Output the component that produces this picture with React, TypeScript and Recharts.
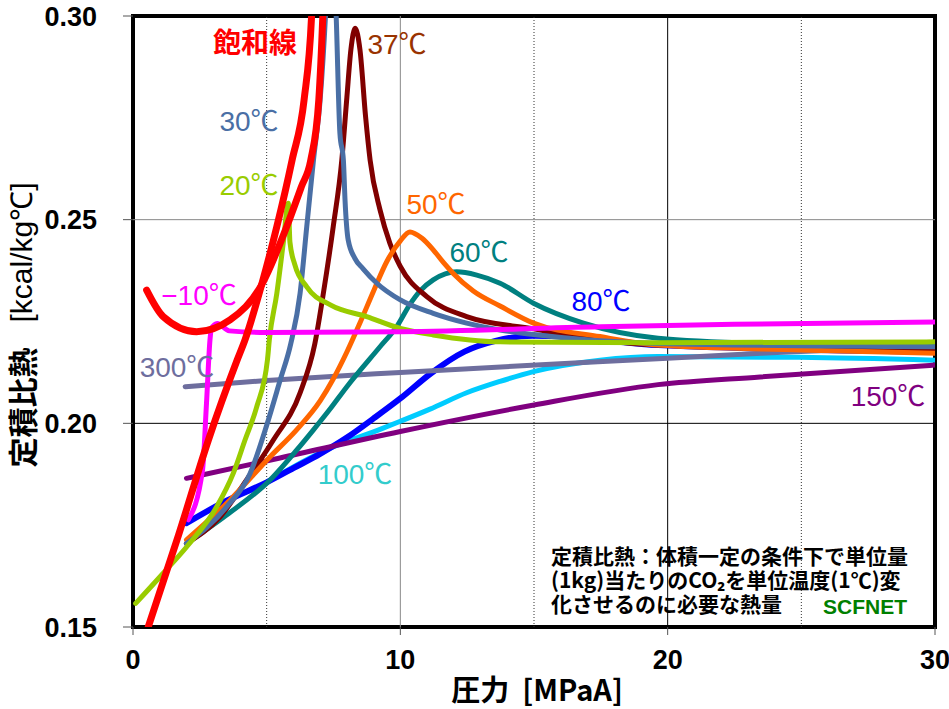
import React from 'react';
import { LineChart, Line, XAxis, YAxis, ReferenceLine, ReferenceArea } from 'recharts';

// ---- axis ticks ----
const X_TICKS = [0, 10, 20, 30];
const Y_TICKS = [0.15, 0.2, 0.25, 0.3];

// ---- series data (pressure MPa, Cv kcal/kg℃) ----
const satVapP = [0.57, 1.7, 2.82, 3.9, 4.19, 4.81, 5.38, 5.95, 6.4, 6.68, 6.8];
const satVapCv = [0.15, 0.1725, 0.1959, 0.2156, 0.2205, 0.234, 0.2483, 0.2646, 0.2794, 0.3, 0.32];

const satLiqP = [0.51, 1.13, 2.38, 3.63, 4.81, 5.75, 6.3, 6.65, 6.95, 7.1, 7.2];
const satLiqCv = [0.2327, 0.2262, 0.2225, 0.2254, 0.234, 0.2483, 0.2581, 0.2646, 0.2794, 0.3, 0.32];

const tm10P = [2.07, 2.6, 2.75, 2.88, 2.93, 3.15, 3.6, 5, 10, 17.5, 22.5, 30];
const tm10Cv = [0.1763, 0.1885, 0.205, 0.2205, 0.2232, 0.2245, 0.2227, 0.2223, 0.2225, 0.2237, 0.2243, 0.2249];

const t20P = [0.1, 1.13, 2.01, 3.13, 3.75, 4.19, 4.63, 5.03, 5.1, 5.38, 5.62, 5.81, 5.87, 6.05, 6.5, 7.4, 8.74, 10, 11.23, 13.73, 19.64, 30];
const t20Cv = [0.1558, 0.1632, 0.1697, 0.1795, 0.1877, 0.1959, 0.2041, 0.2156, 0.2205, 0.2319, 0.2442, 0.254, 0.2445, 0.239, 0.2335, 0.229, 0.2262, 0.2233, 0.2217, 0.22, 0.2198, 0.22];

const t30P = [2.0, 3.5, 4.38, 5.0, 5.5, 5.9, 6.25, 6.5, 6.75, 7.0, 7.2, 7.4, 7.6, 7.74, 7.87, 7.93, 8.05, 8.3, 8.6, 9.12, 10, 11.23, 12.48, 13.73, 14.98, 19.64, 30];
const t30Cv = [0.1705, 0.1795, 0.1877, 0.1995, 0.2105, 0.2195, 0.2319, 0.2483, 0.2646, 0.2794, 0.3, 0.33, 0.3, 0.2712, 0.2646, 0.255, 0.245, 0.2405, 0.238, 0.2344, 0.2303, 0.227, 0.2246, 0.2229, 0.2218, 0.2196, 0.2188];

const t37P = [2.0, 3.25, 4.25, 5.25, 6.25, 6.8, 7.12, 7.49, 7.81, 8.0, 8.15, 8.31, 8.49, 8.7, 8.87, 9.24, 9.61, 10.0, 10.99, 12.48, 14.98, 17.47, 19.64, 30];
const t37Cv = [0.1705, 0.177, 0.1861, 0.1959, 0.2075, 0.2195, 0.2319, 0.2483, 0.2646, 0.28, 0.2917, 0.297, 0.2917, 0.2753, 0.2646, 0.2524, 0.2442, 0.2385, 0.2311, 0.2262, 0.2232, 0.2205, 0.2192, 0.2182];

const t50P = [2.0, 3.63, 5.13, 6.12, 7.0, 7.5, 8.0, 8.5, 9.0, 9.5, 10.0, 10.36, 10.8, 11.23, 11.61, 11.98, 12.73, 13.73, 14.98, 17.47, 19.64, 24.95, 30];
const t50Cv = [0.1714, 0.1812, 0.1918, 0.1984, 0.2055, 0.211, 0.2175, 0.2248, 0.2325, 0.2398, 0.2448, 0.247, 0.2455, 0.2426, 0.2395, 0.2368, 0.2325, 0.2288, 0.2246, 0.2213, 0.2192, 0.218, 0.2172];

const t60P = [2.0, 3.5, 5.13, 6.12, 6.75, 7.37, 8.0, 9.24, 9.86, 10.36, 10.74, 11.23, 12.11, 12.86, 13.73, 14.98, 16.85, 19.64, 23.7, 30];
const t60Cv = [0.1705, 0.1775, 0.1861, 0.1934, 0.1984, 0.2035, 0.209, 0.2188, 0.2237, 0.2292, 0.2325, 0.2352, 0.2372, 0.2364, 0.2344, 0.2295, 0.2246, 0.2209, 0.2196, 0.219];

const t80P = [2.0, 3.5, 5.0, 6.0, 7.0, 8.0, 9.0, 10, 11.15, 12.4, 13.6, 14.98, 16, 17.47, 19.64, 30];
const t80Cv = [0.1755, 0.181, 0.1855, 0.189, 0.1925, 0.1965, 0.2012, 0.2061, 0.2123, 0.2176, 0.2203, 0.2215, 0.2214, 0.2205, 0.2192, 0.2176];

const t100P = [5.0, 6.0, 7.24, 9.24, 10, 11.11, 12.48, 13.73, 14.98, 17.47, 19.64, 24.95, 30];
const t100Cv = [0.1855, 0.1893, 0.1935, 0.1985, 0.2005, 0.2035, 0.2075, 0.2103, 0.2127, 0.2155, 0.2164, 0.2162, 0.2155];

const t150P = [2.0, 5.5, 10, 15, 19.64, 23.46, 30];
const t150Cv = [0.1865, 0.1915, 0.198, 0.2045, 0.2095, 0.2114, 0.2143];

const t300P = [1.95, 5, 10, 20, 23.5, 30];
const t300Cv = [0.209, 0.2105, 0.2125, 0.216, 0.2172, 0.2188];

const NOTE_TEXT = '定積比熱：体積一定の条件下で単位量\n(1kg)当たりのCO₂を単位温度(1℃)変\n化させるのに必要な熱量';

const zip = (xs: number[], ys: number[]) => xs.map((p, i) => ({ p, cv: ys[i] }));

const SERIES = [
  { key: 't100', data: zip(t100P, t100Cv), color: '#00ccff', w: 5 },
  { key: 't80', data: zip(t80P, t80Cv), color: '#0000ff', w: 6 },
  { key: 't150', data: zip(t150P, t150Cv), color: '#800080', w: 5 },
  { key: 't300', data: zip(t300P, t300Cv), color: '#6e6e9e', w: 5 },
  { key: 't60', data: zip(t60P, t60Cv), color: '#008080', w: 5 },
  { key: 't37', data: zip(t37P, t37Cv), color: '#800000', w: 5 },
  { key: 't50', data: zip(t50P, t50Cv), color: '#ff6600', w: 5 },
  { key: 't30', data: zip(t30P, t30Cv), color: '#4a6fa5', w: 5 },
  { key: 't20', data: zip(t20P, t20Cv), color: '#99cc00', w: 5 },
  { key: 'tm10', data: zip(tm10P, tm10Cv), color: '#ff00ff', w: 5 },
  { key: 'satLiq', data: zip(satLiqP, satLiqCv), color: '#ff0000', w: 7 },
  { key: 'satVap', data: zip(satVapP, satVapCv), color: '#ff0000', w: 7 },
];

const NUM_FONT = '"Liberation Sans", Arial, sans-serif';
const JP_FONT = '"Noto Sans CJK JP", "Noto Sans", sans-serif';
const LBL_FONT = '"Liberation Sans", Arial, "Noto Sans CJK JP", sans-serif';

const lbl = (text: string, color: string, x: number, y: number, size = 28, bold = false, font = LBL_FONT) => (
  <div
    key={text}
    style={{
      position: 'absolute', left: x, top: y, transform: 'translate(-50%, -50%)',
      color, fontSize: size, fontFamily: font, fontWeight: bold ? 700 : 400,
      whiteSpace: 'nowrap', lineHeight: 1,
    }}
  >
    {text}
  </div>
);

export default function App() {
  return (
    <div style={{ position: 'absolute', left: 0, top: 0, width: 949, height: 709, background: '#fff', overflow: 'hidden' }}>
      <LineChart width={949} height={709} margin={{ top: 16, right: 14, bottom: 0, left: 0 }}>
        <XAxis
          type="number" dataKey="p" domain={[0, 30]} ticks={X_TICKS} height={82}
          axisLine={false} tickLine={{ stroke: '#555' }} tickSize={8} tickMargin={15}
          tick={{ fontSize: 27, fontWeight: 700, fill: '#000', fontFamily: NUM_FONT }}
          allowDataOverflow
        />
        <YAxis
          type="number" dataKey="cv" domain={[0.15, 0.3]} ticks={Y_TICKS} width={133}
          axisLine={false} tickLine={{ stroke: '#555' }} tickSize={10} tickMargin={26}
          tickFormatter={(v: number) => v.toFixed(2)}
          tick={{ fontSize: 27, fontWeight: 700, fill: '#000', fontFamily: NUM_FONT }}
          allowDataOverflow
        />
        <ReferenceLine x={5} stroke="#333" strokeDasharray="1 2" />
        <ReferenceLine x={10} stroke="#888" />
        <ReferenceLine x={15} stroke="#333" strokeDasharray="1 2" />
        <ReferenceLine x={20} stroke="#000" />
        <ReferenceLine x={25} stroke="#333" strokeDasharray="1 2" />
        <ReferenceLine y={0.25} stroke="#888" />
        <ReferenceLine y={0.2} stroke="#000" />
        {SERIES.map((s) => (
          <Line
            key={s.key} data={s.data} dataKey="cv" type="monotone" stroke={s.color}
            strokeWidth={s.w} dot={false} isAnimationActive={false} strokeLinecap="round"
            strokeLinejoin="round"
          />
        ))}
        <ReferenceArea x1={0} x2={30} y1={0.15} y2={0.3} fill="none" stroke="#000" strokeWidth={4} ifOverflow="visible" />
      </LineChart>

      {lbl('飽和線', '#ff0000', 255, 41, 28, true, JP_FONT)}
      {lbl('37℃', '#993300', 397, 45)}
      {lbl('30℃', '#4a6fa5', 249, 122)}
      {lbl('20℃', '#99cc00', 249, 186)}
      {lbl('50℃', '#ff6600', 436, 205)}
      {lbl('60℃', '#008080', 479, 253)}
      {lbl('80℃', '#0000ff', 601, 302)}
      {lbl('−10℃', '#ff00ff', 199, 296)}
      {lbl('300℃', '#6e6e9e', 177, 368)}
      {lbl('100℃', '#33cccc', 355, 475)}
      {lbl('150℃', '#800080', 888, 397)}

      <svg width={44} height={709} style={{ position: 'absolute', left: 0, top: 0 }}>
        <text
          x={21} y={325} transform="rotate(-90, 21, 325)" textAnchor="middle" dominantBaseline="central"
          fontSize={30} fontFamily={JP_FONT} fill="#000"
        >
          <tspan fontWeight={700}>定積比熱</tspan>
          <tspan fontFamily={NUM_FONT} fontWeight={400}>{'\u00a0\u00a0\u00a0[kcal/kg℃]'}</tspan>
        </text>
      </svg>
      <div
        style={{
          position: 'absolute', left: 537, top: 688, transform: 'translate(-50%, -50%)',
          fontSize: 29, fontWeight: 700, fontFamily: JP_FONT, whiteSpace: 'nowrap', color: '#000', lineHeight: 1,
        }}
      >
        圧力&nbsp;&nbsp;[MPaA]
      </div>

      <div
        style={{
          position: 'absolute', left: 551, top: 543, fontSize: 21, fontWeight: 700, fontFamily: JP_FONT,
          color: '#000', lineHeight: '24px', whiteSpace: 'pre',
        }}
      >
        {NOTE_TEXT}
      </div>
      <div
        style={{
          position: 'absolute', left: 823, top: 595, fontSize: 21, fontWeight: 700, fontFamily: NUM_FONT,
          color: '#008000', lineHeight: '24px', whiteSpace: 'nowrap',
        }}
      >
        SCFNET
      </div>
    </div>
  );
}
